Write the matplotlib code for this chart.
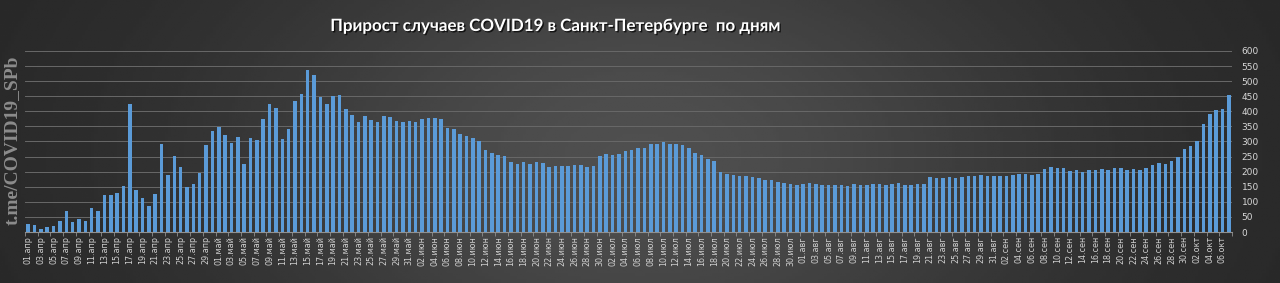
import numpy as np
import pandas as pd
import matplotlib
matplotlib.use('Agg')
import matplotlib.pyplot as plt
import matplotlib.patheffects as pe

# daily new cases, St. Petersburg, 2020
apr = [27, 22, 10, 15, 20, 35, 68, 33, 43, 35,
       80, 68, 121, 121, 130, 153, 423, 140, 114, 86,
       127, 292, 190, 252, 214, 150, 160, 197, 290, 334]
may = [347, 322, 295, 315, 225, 311, 305, 374, 423, 411,
       307, 340, 433, 459, 538, 522, 449, 423, 452, 454,
       407, 388, 363, 384, 371, 363, 386, 381, 367, 365, 367]
jun = [363, 374, 379, 378, 376, 345, 340, 325, 318, 312,
       301, 273, 262, 254, 252, 233, 226, 231, 225, 231,
       228, 216, 219, 219, 219, 221, 223, 216, 219, 251]
jul = [259, 256, 260, 269, 273, 278, 277, 292, 291, 298,
       293, 291, 288, 279, 263, 254, 242, 237, 199, 192,
       188, 186, 184, 181, 178, 173, 171, 166, 164, 158, 157]
aug = [158, 162, 158, 157, 155, 156, 155, 153, 158, 155,
       155, 158, 158, 157, 158, 162, 157, 155, 158, 158,
       181, 180, 178, 181, 178, 181, 184, 185, 188, 185, 185]
sep = [184, 187, 189, 191, 191, 190, 193, 209, 215, 213,
       213, 202, 204, 198, 204, 207, 209, 204, 211, 213,
       206, 208, 207, 213, 222, 230, 225, 235, 248, 275]
oct_ = [284, 301, 357, 390, 404, 409, 454]

values = apr + may + jun + jul + aug + sep + oct_
month_names = ['янв', 'фев', 'мар', 'апр', 'май', 'июн',
               'июл', 'авг', 'сен', 'окт', 'ноя', 'дек']
dates = pd.date_range('2020-04-01', periods=len(values))
labels = [f"{d.day:02d}.{month_names[d.month - 1]}" for d in dates]
yticks = list(range(0, 601, 50))

fig = plt.figure(figsize=(12.8, 2.83), dpi=100)

# dark background with a lighter middle
bg = fig.add_axes([0, 0, 1, 1], zorder=-10)
gx, gy = np.meshgrid(np.linspace(0, 1, 400), np.linspace(0, 1, 100))
shade = 0.15 + 0.16 * np.exp(-((gx - 0.5) / 0.33) ** 2 - ((gy - 0.55) / 0.9) ** 2)
bg.imshow(shade, cmap='gray', vmin=0, vmax=1, aspect='auto', extent=[0, 1, 0, 1])
bg.axis('off')

ax = fig.add_axes([25 / 1280, 51 / 283, 1207 / 1280, 181 / 283])
ax.patch.set_alpha(0)

x = np.arange(len(values))
ax.bar(x, values, width=0.56, color='#5b9bd8', zorder=3)

ax.set_xlim(-0.5, len(values) - 0.5)
ax.set_ylim(0, 600)
ax.set_yticks(yticks)
ax.yaxis.tick_right()
ax.tick_params(axis='y', length=0, pad=7, labelsize=6.5, labelcolor='#d8d8d8')
ax.grid(axis='y', color='#686868', linewidth=0.7, zorder=0)

ax.set_xticks(x[::2])
ax.set_xticklabels(labels[::2], rotation=90, fontsize=5.8, color='#d0d0d0')
ax.tick_params(axis='x', length=0, pad=3)
ax.set_xticks(np.arange(-0.5, len(values), 2), minor=True)
ax.tick_params(axis='x', which='minor', length=3, color='#909090', width=0.6)

for s in ['top', 'left', 'right']:
    ax.spines[s].set_visible(False)
ax.spines['bottom'].set_color('#909090')
ax.spines['bottom'].set_linewidth(0.8)

fig.text(555 / 1280, 1 - 26 / 283, 'Прирост случаев COVID19 в Санкт-Петербурге  по дням',
         ha='center', va='center', fontsize=12.2, fontweight='bold', color='white',
         family='Lato',
         path_effects=[pe.withSimplePatchShadow(offset=(1, -1), shadow_rgbFace='black', alpha=0.7)])

fig.text(12 / 1280, 1 - 140 / 283, 't.me/COVID19_SPb', rotation=90, ha='center', va='center',
         fontsize=14, fontweight='bold', color='#8c8c8c', family='Liberation Serif')

fig.savefig('out.png', dpi=100)
